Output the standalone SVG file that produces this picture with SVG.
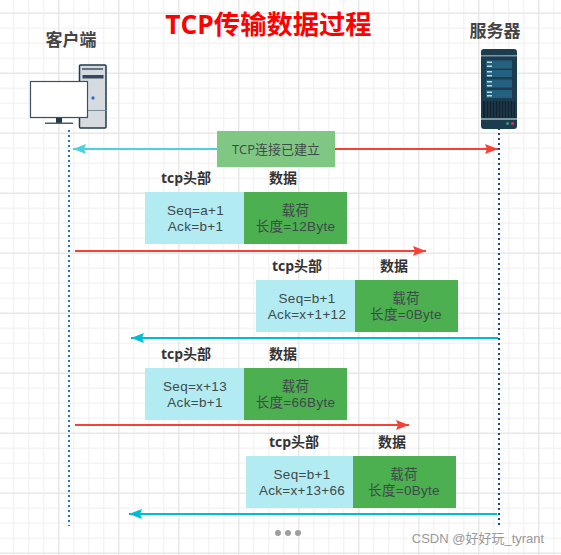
<svg xmlns="http://www.w3.org/2000/svg" width="561" height="555" viewBox="0 0 561 555">
<defs>
<pattern id="minor" width="15" height="15" patternUnits="userSpaceOnUse" x="-1.7" y="-2.3"><path d="M15 0H0V15" fill="none" stroke="#efefef" stroke-width="1" transform="translate(0.5 0.5)"/></pattern>
<pattern id="major" width="60" height="60" patternUnits="userSpaceOnUse" x="-1.7" y="12.7"><path d="M60 0H0V60" fill="none" stroke="#e3e3e3" stroke-width="1" transform="translate(0.5 0.5)"/></pattern>
<marker id="ar" markerUnits="userSpaceOnUse" markerWidth="14" markerHeight="10" refX="13" refY="5" orient="auto"><path d="M0 0L13 5L0 10L2 5Z" fill="#f44336"/></marker>
<marker id="ac" markerUnits="userSpaceOnUse" markerWidth="14" markerHeight="10" refX="13" refY="5" orient="auto"><path d="M0 0L13 5L0 10L2 5Z" fill="#00bcd4"/></marker>
<marker id="al" markerUnits="userSpaceOnUse" markerWidth="14" markerHeight="10" refX="13" refY="5" orient="auto"><path d="M0 0L13 5L0 10L2 5Z" fill="#4dd0e1"/></marker>
</defs>
<style>
text{font-family:"Open Sans","Noto Sans CJK SC",sans-serif;text-anchor:middle}
.h{font-size:14px;font-weight:700;fill:#333}
.e{font-size:13px;fill:#3f4a4a}
.t{font-size:13.5px;letter-spacing:.3px;fill:#3f4a4a;font-family:"Liberation Sans","Noto Sans CJK SC",sans-serif}
.big{font-size:17px;font-weight:700;fill:#444}
.title{font-size:26.300px;font-weight:700;fill:#f00}
.wm{font-size:13px;fill:#999;font-family:"Liberation Sans","Noto Sans CJK SC",sans-serif}
.hd{fill:#b2ebf2}
.pl{fill:#4caf50}
.r{stroke:#f44336;stroke-width:2;fill:none;marker-end:url(#ar)}
.c{stroke:#00bcd4;stroke-width:2;fill:none;marker-end:url(#ac)}
</style>
<rect width="561" height="555" fill="#fff"/>
<rect width="561" height="555" fill="url(#minor)"/>
<rect width="561" height="555" fill="url(#major)"/>

<g id="connectors">
<path d="M69 130V526" stroke="#1976d2" stroke-width="2" stroke-dasharray="2 3" fill="none"/>
<path d="M499 128V526" stroke="#0d47a1" stroke-width="2" stroke-dasharray="2 3" fill="none"/>
<path d="M217 149H73" stroke="#4dd0e1" stroke-width="2" fill="none" marker-end="url(#al)"/>
<path class="r" d="M335 149H498"/>
<path class="r" d="M75 251H426"/>
<path class="c" d="M498 338H131"/>
<path class="r" d="M75 425H409"/>
<path class="c" d="M497 514H129"/>
</g>

<text class="title" x="268.500" y="34">TCP传输数据过程</text>

<g id="client">
<text class="big" x="71" y="46">客户端</text>
<rect x="79.500" y="65" width="26.500" height="63" rx="1" fill="#d6dbe0" stroke="#22394d" stroke-width="1.500"/>
<path d="M82 69H103" stroke="#3e5468" stroke-width="1.500"/>
<rect x="82.500" y="75" width="21" height="3.500" fill="#33495c"/>
<path d="M80 110.500H106" stroke="#7b8a97" stroke-width="1"/>
<circle cx="93" cy="98" r="1.700" fill="#2f6fd0"/>
<rect x="30.500" y="81.500" width="57" height="36" fill="#fff" stroke="#3c5163" stroke-width="1.200"/>
<rect x="56" y="118" width="6" height="5" fill="#22394d"/>
<rect x="45" y="122.500" width="28" height="1.500" fill="#4a5f70"/>
</g>

<g id="server">
<text class="big" x="495" y="37">服务器</text>
<rect x="481" y="49" width="36" height="80" rx="3" fill="#1c3d50"/>
<rect x="481" y="55" width="36" height="1.500" fill="#80949f"/>
<rect x="486" y="60.500" width="26" height="8" fill="#24607f"/>
<rect x="486" y="70" width="26" height="7" fill="#24607f"/>
<rect x="486" y="79.500" width="26" height="8" fill="#24607f"/>
<rect x="486" y="90" width="26" height="8" fill="#24607f"/>
<rect x="487" y="61.500" width="5" height="1.500" fill="#bcd7e6"/>
<rect x="487" y="65.500" width="5" height="1.500" fill="#bcd7e6"/>
<rect x="487" y="71" width="5" height="1.500" fill="#bcd7e6"/>
<rect x="487" y="75" width="5" height="1.500" fill="#bcd7e6"/>
<rect x="487" y="81" width="5" height="1.500" fill="#bcd7e6"/>
<rect x="487" y="85" width="5" height="1.500" fill="#bcd7e6"/>
<rect x="487" y="91.500" width="5" height="1.500" fill="#bcd7e6"/>
<rect x="487" y="95" width="5" height="1.500" fill="#bcd7e6"/>
<rect x="483" y="101" width="32" height="17" fill="#10232f"/>
<path d="M486 101V118M489 101V118M492 101V118M495 101V118M498 101V118M501 101V118M504 101V118M507 101V118M510 101V118M513 101V118" stroke="#27495e" stroke-width="1"/>
<rect x="481" y="118" width="36" height="2" fill="#80949f"/>
<circle cx="507.500" cy="123.500" r="1.500" fill="#2e9e7a"/>
<circle cx="512.500" cy="123.500" r="1.500" fill="#c23a5c"/>
</g>

<g id="established">
<rect x="217" y="131" width="118" height="36" fill="#81c784"/>
<text class="e" x="276" y="154">TCP连接已建立</text>
</g>

<g id="msg1">
<text class="h" x="186" y="183">tcp头部</text>
<text class="h" x="283" y="183">数据</text>
<rect class="hd" x="145" y="192" width="99" height="52"/>
<rect class="pl" x="244" y="192" width="103" height="52"/>
<text class="t" x="195.500" y="215">Seq=a+1</text>
<text class="t" x="195.500" y="231">Ack=b+1</text>
<text class="t" x="295.500" y="215">载荷</text>
<text class="t" x="295.500" y="231">长度=12Byte</text>
</g>

<g id="msg2">
<text class="h" x="297" y="271">tcp头部</text>
<text class="h" x="394" y="271">数据</text>
<rect class="hd" x="256" y="280" width="99" height="52"/>
<rect class="pl" x="355" y="280" width="103" height="52"/>
<text class="t" x="307" y="303">Seq=b+1</text>
<text class="t" x="307" y="319">Ack=x+1+12</text>
<text class="t" x="406" y="303">载荷</text>
<text class="t" x="406" y="319">长度=0Byte</text>
</g>

<g id="msg3">
<text class="h" x="186" y="359">tcp头部</text>
<text class="h" x="283" y="359">数据</text>
<rect class="hd" x="145" y="368" width="99" height="52"/>
<rect class="pl" x="244" y="368" width="103" height="52"/>
<text class="t" x="195" y="391">Seq=x+13</text>
<text class="t" x="195" y="407">Ack=b+1</text>
<text class="t" x="295.500" y="391">载荷</text>
<text class="t" x="295.500" y="407">长度=66Byte</text>
</g>

<g id="msg4">
<text class="h" x="294" y="447">tcp头部</text>
<text class="h" x="392" y="447">数据</text>
<rect class="hd" x="246" y="456" width="107" height="52"/>
<rect class="pl" x="353" y="456" width="103" height="52"/>
<text class="t" x="302" y="479">Seq=b+1</text>
<text class="t" x="302" y="495">Ack=x+13+66</text>
<text class="t" x="404" y="479">载荷</text>
<text class="t" x="404" y="495">长度=0Byte</text>
</g>

<g id="ellipsis" fill="#9e9e9e">
<circle cx="278" cy="533" r="3"/><circle cx="288" cy="533" r="3"/><circle cx="298" cy="533" r="3"/>
</g>
<text class="wm" x="478" y="543">CSDN @好好玩_tyrant</text>
</svg>
